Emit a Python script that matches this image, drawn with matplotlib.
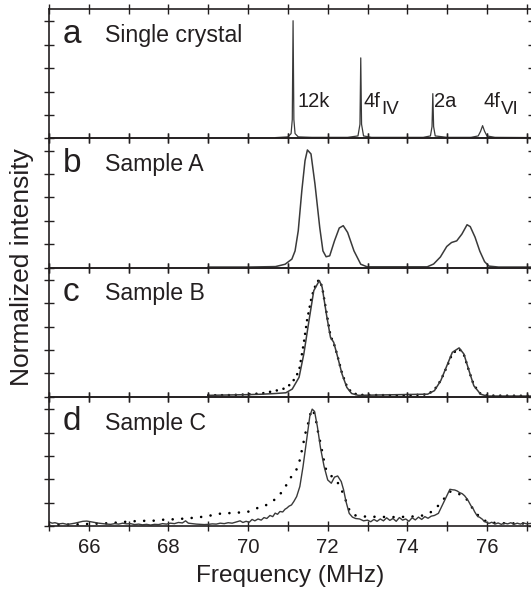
import numpy as np
import matplotlib
matplotlib.use("Agg")
import matplotlib.pyplot as plt

plt.rcParams['font.family'] = ['Liberation Sans', 'DejaVu Sans']

# ---- data (frequency in MHz, intensity in tick units) ----
# a: single crystal, sharp lines
freq_a = [70.70, 71.00, 71.08, 71.11, 71.13, 71.15, 71.18, 71.26, 71.60,
          72.50, 72.76, 72.81, 72.83, 72.85, 72.90, 73.10,
          74.40, 74.58, 74.62, 74.64, 74.66, 74.70, 75.00,
          75.60, 75.78, 75.84, 75.89, 75.94, 76.00, 76.20, 77.20]
int_a = [0.03, 0.06, 0.20, 0.80, 5.03, 0.80, 0.20, 0.06, 0.04,
         0.04, 0.10, 0.60, 3.44, 0.60, 0.10, 0.04,
         0.04, 0.10, 0.50, 1.91, 0.50, 0.10, 0.04,
         0.04, 0.10, 0.30, 0.54, 0.30, 0.10, 0.04, 0.03]
peak_names = ['12k', '4f', '2a', '4f']
peak_subs = ['', 'IV', '', 'VI']
peak_label_x = [71.24, 72.90, 74.68, 75.91]

# b: sample A
freq_b = [69.0, 70.0, 70.69, 70.93, 71.10, 71.18, 71.26, 71.35, 71.43, 71.49,
          71.58, 71.68, 71.80, 71.88, 71.96, 72.05, 72.17, 72.29, 72.39, 72.50,
          72.66, 72.83, 72.99, 74.50, 74.66, 74.83, 74.99, 75.11, 75.24, 75.37,
          75.50, 75.58, 75.70, 75.82, 75.94, 76.05, 76.29, 77.2]
int_b = [0.02, 0.02, 0.04, 0.14, 0.36, 0.71, 1.57, 3.29, 4.57, 5.03,
         4.86, 3.57, 1.71, 0.71, 0.46, 0.50, 1.14, 1.69, 1.79, 1.50,
         0.71, 0.14, 0.03, 0.03, 0.15, 0.45, 0.90, 1.07, 1.14, 1.43,
         1.83, 1.75, 1.30, 0.70, 0.25, 0.06, 0.02, 0.02]

# c: sample B, measured (solid) and fit (dotted)
freq_c = [69.0, 69.99, 70.37, 70.70, 70.95, 71.11, 71.28, 71.40, 71.53, 71.65,
          71.79, 71.86, 71.98, 72.07, 72.15, 72.23, 72.36, 72.48, 72.60, 72.77,
          74.51, 74.68, 74.84, 75.01, 75.13, 75.30, 75.42, 75.55, 75.67, 75.84,
          76.0, 77.2]
int_c = [0.06, 0.09, 0.11, 0.14, 0.17, 0.33, 0.83, 1.83, 3.26, 4.54,
         4.97, 4.69, 3.40, 2.54, 2.33, 1.83, 0.97, 0.40, 0.14, 0.06,
         0.11, 0.26, 0.69, 1.40, 1.90, 2.09, 1.83, 1.11, 0.47, 0.11,
         0.03, 0.03]
freq_c_fit = [69.0, 69.5, 70.0, 70.37, 70.70, 70.95, 71.11, 71.28, 71.40, 71.48,
              71.60, 71.72, 71.79, 71.86, 71.98, 72.07, 72.15, 72.23, 72.36, 72.48,
              72.60, 72.77, 74.0, 74.51, 74.68, 74.84, 75.01, 75.13, 75.30, 75.42,
              75.55, 75.67, 75.84, 76.0, 77.2]
int_c_fit = [0.06, 0.07, 0.10, 0.15, 0.26, 0.37, 0.61, 1.10, 2.30, 3.26,
             4.30, 4.90, 5.00, 4.70, 3.50, 2.60, 2.30, 1.85, 1.00, 0.45,
             0.18, 0.08, 0.06, 0.10, 0.30, 0.70, 1.35, 1.85, 2.05, 1.80,
             1.10, 0.50, 0.12, 0.05, 0.04]

# d: sample C, measured (solid, noisy) and fit (dotted)
freq_d = [65.0, 65.08, 65.15, 65.25, 65.35, 65.45, 65.55, 65.65, 65.75, 65.85,
          65.95, 66.05, 66.15, 66.25, 66.35, 66.45, 66.55, 66.65, 66.75, 66.85,
          66.95, 67.05, 67.15, 67.25, 67.35, 67.45, 67.55, 67.65, 67.75, 67.85,
          67.95, 68.05, 68.15, 68.25, 68.35, 68.43, 68.50, 68.60, 68.70, 68.80,
          68.90, 69.00, 69.10, 69.20, 69.30, 69.40, 69.50, 69.60, 69.70, 69.80,
          69.87, 69.95, 70.03, 70.10, 70.17, 70.25, 70.33, 70.40, 70.47, 70.55,
          70.62, 70.68, 70.74, 70.80, 70.87, 70.93, 70.97, 71.03, 71.09, 71.15,
          71.22, 71.30, 71.38, 71.47, 71.55, 71.61, 71.67, 71.74, 71.82, 71.91,
          72.00, 72.09, 72.17, 72.25, 72.34, 72.40, 72.46, 72.54, 72.62, 72.70,
          72.80, 72.90, 73.00, 73.08, 73.16, 73.24, 73.32, 73.40, 73.48, 73.56,
          73.64, 73.72, 73.80, 73.88, 73.96, 74.04, 74.12, 74.20, 74.28, 74.36,
          74.44, 74.52, 74.60, 74.68, 74.78, 74.90, 75.00, 75.07, 75.13, 75.19,
          75.25, 75.31, 75.38, 75.44, 75.52, 75.60, 75.65, 75.69, 75.73, 75.77,
          75.81, 75.85, 75.89, 75.93, 76.00, 76.05, 76.12, 76.20, 76.28, 76.36,
          76.44, 76.52, 76.60, 76.68, 76.76, 76.84, 76.92, 77.00, 77.10, 77.20]
int_d = [0.17, 0.12, 0.14, 0.09, 0.11, 0.07, 0.09, 0.12, 0.16, 0.20,
         0.21, 0.18, 0.15, 0.12, 0.10, 0.08, 0.07, 0.10, 0.08, 0.12,
         0.09, 0.10, 0.06, 0.08, 0.05, 0.07, 0.04, 0.07, 0.06, 0.10,
         0.08, 0.12, 0.10, 0.15, 0.13, 0.22, 0.12, 0.10, 0.08, 0.07,
         0.06, 0.07, 0.09, 0.08, 0.12, 0.10, 0.14, 0.12, 0.17, 0.22,
         0.15, 0.20, 0.16, 0.28, 0.22, 0.30, 0.25, 0.36, 0.32, 0.45,
         0.40, 0.55, 0.50, 0.62, 0.60, 0.72, 0.76, 0.85, 0.90, 1.05,
         1.26, 1.69, 2.54, 3.69, 4.69, 5.00, 4.90, 4.26, 3.33, 2.54,
         1.97, 1.83, 2.09, 2.14, 1.90, 1.54, 1.04, 0.54, 0.38, 0.32,
         0.30, 0.22, 0.25, 0.18, 0.28, 0.20, 0.30, 0.22, 0.35, 0.24,
         0.32, 0.20, 0.36, 0.25, 0.30, 0.20, 0.35, 0.26, 0.38, 0.28,
         0.40, 0.33, 0.42, 0.45, 0.54, 0.97, 1.33, 1.57, 1.55, 1.54,
         1.50, 1.43, 1.38, 1.29, 1.11, 0.86, 0.75, 0.61, 0.50, 0.40,
         0.38, 0.33, 0.28, 0.19, 0.15, 0.11, 0.16, 0.08, 0.13, 0.07,
         0.12, 0.09, 0.14, 0.07, 0.12, 0.08, 0.13, 0.09, 0.11, 0.08]
freq_d_fit = [65.0, 65.7, 66.53, 66.86, 67.27, 67.60, 67.77, 68.18, 68.51, 68.84,
              69.0, 69.34, 69.67, 70.0, 70.22, 70.39, 70.56, 70.72, 70.89, 71.01,
              71.14, 71.24, 71.30, 71.38, 71.44, 71.51, 71.57, 71.62, 71.67, 71.71,
              71.77, 71.82, 71.86, 71.91, 71.96, 72.05, 72.17, 72.29, 72.42, 72.52,
              72.63, 72.79, 72.96, 73.3, 73.7, 74.1, 74.4, 74.55, 74.69, 74.86,
              75.07, 75.20, 75.31, 75.44, 75.56, 75.69, 75.85, 76.02, 76.3, 77.2]
int_d_fit = [0.04, 0.07, 0.12, 0.17, 0.22, 0.22, 0.26, 0.29, 0.33, 0.39,
             0.43, 0.54, 0.56, 0.61, 0.76, 0.83, 1.00, 1.19, 1.54, 1.90,
             2.26, 2.47, 2.83, 3.47, 3.97, 4.40, 4.83, 5.00, 4.76, 4.47,
             3.90, 3.54, 3.19, 2.76, 2.40, 2.19, 2.04, 1.76, 1.26, 0.76,
             0.47, 0.43, 0.40, 0.39, 0.38, 0.40, 0.45, 0.55, 0.70, 1.04,
             1.47, 1.45, 1.36, 1.26, 0.97, 0.61, 0.33, 0.16, 0.12, 0.10]

letters = ['a', 'b', 'c', 'd']
titles = ['Single crystal', 'Sample A', 'Sample B', 'Sample C']

line_col = '#3a3a3a'
text_col = '#231f20'

fig = plt.figure(figsize=(5.31, 5.95), dpi=100)

# four stacked panels, right edge just past the figure like the cropped original
left, width = 0.0923, 0.9110
h = 0.2172
bottoms = [0.7676, 0.5504, 0.3332, 0.1160]
axes = [fig.add_axes([left, b, width, h]) for b in bottoms]

for i, ax in enumerate(axes):
    ax.set_xlim(65, 77.15)
    ax.set_ylim(0, 5.53)
    ax.set_xticks([66, 68, 70, 72, 74, 76])
    ax.set_xticks([65, 67, 69, 71, 73, 75, 77], minor=True)
    ax.set_yticks([0, 1, 2, 3, 4, 5])
    ax.tick_params(which='both', direction='inout', length=7.7, width=1.0,
                   top=True, right=True, labelleft=False,
                   labelbottom=(i == 3), labelsize=14.7, pad=4.5,
                   colors=text_col)
    for s in ax.spines.values():
        s.set_linewidth(1.2)
        s.set_color(text_col)
    ax.set_facecolor('none')
    ax.text(0.029, 0.74, letters[i], transform=ax.transAxes, fontsize=24,
            va='baseline', color=text_col)
    ax.text(0.115, 0.745, titles[i], transform=ax.transAxes, fontsize=16.7,
            va='baseline', color=text_col)

axes[0].plot(freq_a, int_a, color=line_col, lw=0.9)
for name, sub, x in zip(peak_names, peak_subs, peak_label_x):
    axes[0].text(x, 1.32, name, fontsize=14.5, va='baseline', color=text_col)
    if sub:
        # subscript placed right after "4f"
        axes[0].annotate(sub, xy=(x, 1.32), xytext=(12.4, -5),
                         textcoords='offset points', fontsize=13.5,
                         va='baseline', color=text_col, annotation_clip=False)

axes[1].plot(freq_b, int_b, color=line_col, lw=1.1)

axes[2].plot(freq_c_fit, int_c_fit, color='black', lw=1.9,
             linestyle=(0, (0.01, 2.6)), dash_capstyle='round')
axes[2].plot(freq_c, int_c, color=line_col, lw=1.1)

axes[3].plot(freq_d_fit, int_d_fit, color='black', lw=1.9,
             linestyle=(0, (0.01, 3.6)), dash_capstyle='round')
axes[3].plot(freq_d, int_d, color=line_col, lw=1.0)

fig.text(0.546, 0.022, 'Frequency (MHz)', fontsize=17.6, ha='center',
         va='baseline', color=text_col)
fig.text(0.041, 0.5504, 'Normalized intensity', fontsize=19, rotation=90,
         ha='center', va='center', color=text_col)

fig.savefig('out.png', dpi=100)
